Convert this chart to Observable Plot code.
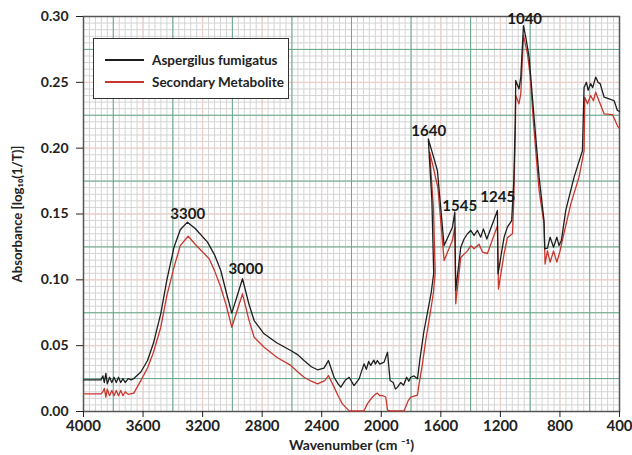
<!DOCTYPE html>
<html>
<head>
<meta charset="utf-8">
<script src="https://cdn.jsdelivr.net/npm/d3@7"></script>
<script src="https://cdn.jsdelivr.net/npm/@observablehq/plot@0.6"></script>
<style>
  html, body { margin: 0; padding: 0; background: #fff; }
  #wrap { position: relative; width: 632px; height: 455px; font-family: Lato, sans-serif; }
  #legend { position: absolute; left: 93px; top: 38px; width: 194px; height: 59px; border: 1.5px solid #333; background: #fff; box-sizing: content-box; }
  .item { position: absolute; left: 0; height: 20px; display: flex; align-items: center; font-weight: bold; font-size: 13.5px; color: #222; white-space: nowrap; }
  .sw { display: inline-block; width: 39px; height: 0; border-top: 2px solid; margin-left: 11px; margin-right: 8px; }
</style>
</head>
<body>
<div id="wrap">
  <div id="chart"></div>
  <div id="legend"></div>
</div>
<script>
// ---- data ----
const seriesNames = ["Aspergilus fumigatus", "Secondary Metabolite"];
const seriesColors = ["#1e1e1e", "#c8372d"];

const wnBlack = [4000,3900,3883,3870,3860,3850,3840,3825,3810,3795,3780,3765,3750,3735,3720,3700,3680,3662,3615,3570,3530,3481,3440,3392,3350,3302,3250,3167,3120,3078,3040,3004,2932,2890,2854,2787,2700,2608,2560,2519,2470,2428,2385,2355,2317,2290,2272,2240,2216,2183,2149,2116,2100,2085,2071,2050,2040,2026,2010,1981,1958,1941,1920,1905,1891,1870,1850,1830,1815,1802,1780,1757,1740,1715,1690,1665,1648,1660,1684,1656,1623,1578,1522,1506,1500,1466,1444,1421,1399,1377,1354,1332,1314,1291,1220,1216,1175,1153,1124,1110,1100,1097,1075,1063,1045,1029,1007,975,940,907,902,884,866,843,821,806,790,761,705,649,638,622,611,594,580,560,544,530,503,470,436,414,400];
const absBlack = [0.024,0.024,0.024,0.027,0.022,0.029,0.021,0.026,0.022,0.026,0.022,0.026,0.022,0.025,0.022,0.025,0.024,0.025,0.030,0.0387,0.052,0.0744,0.100,0.1248,0.138,0.1438,0.139,0.1286,0.119,0.1071,0.090,0.0747,0.1008,0.082,0.0691,0.059,0.052,0.0463,0.043,0.0387,0.034,0.0317,0.033,0.0387,0.026,0.021,0.0185,0.024,0.026,0.0197,0.0248,0.0362,0.032,0.038,0.035,0.039,0.036,0.0387,0.036,0.0375,0.045,0.0235,0.022,0.017,0.0185,0.022,0.020,0.026,0.023,0.026,0.027,0.0248,0.040,0.060,0.075,0.090,0.105,0.160,0.207,0.196,0.183,0.126,0.140,0.1514,0.092,0.1248,0.131,0.135,0.1375,0.1337,0.1375,0.1324,0.1387,0.131,0.1527,0.1046,0.1324,0.140,0.145,0.175,0.220,0.2514,0.245,0.254,0.293,0.284,0.269,0.225,0.178,0.145,0.1236,0.124,0.1324,0.1248,0.1324,0.126,0.130,0.1527,0.178,0.198,0.246,0.250,0.244,0.249,0.246,0.254,0.250,0.249,0.2387,0.2375,0.236,0.2286,0.228];

const wnRed = [4000,3883,3870,3860,3850,3840,3825,3810,3795,3780,3765,3750,3735,3720,3700,3662,3615,3570,3530,3481,3440,3392,3350,3297,3250,3156,3120,3078,3040,3004,2932,2890,2854,2787,2700,2608,2560,2519,2470,2428,2380,2355,2317,2290,2261,2216,2116,2093,2059,2040,2026,2010,1992,1970,1958,1940,1847,1820,1802,1757,1746,1725,1700,1675,1650,1638,1650,1675,1656,1620,1578,1522,1506,1500,1466,1421,1399,1377,1343,1320,1287,1220,1213,1175,1153,1119,1110,1100,1097,1075,1063,1045,1018,1000,975,940,907,900,884,866,843,821,799,784,727,672,638,633,615,594,575,560,538,503,447,414,400];
const absRed = [0.0134,0.0134,0.015,0.0175,0.011,0.017,0.012,0.016,0.012,0.016,0.012,0.016,0.012,0.015,0.013,0.014,0.0235,0.033,0.045,0.064,0.088,0.1096,0.126,0.1331,0.127,0.116,0.107,0.0944,0.080,0.064,0.0894,0.070,0.0564,0.0488,0.041,0.035,0.030,0.026,0.023,0.021,0.0235,0.0273,0.0185,0.012,0.0058,0.0005,0.0005,0.006,0.011,0.013,0.014,0.012,0.012,0.011,0.001,0.0005,0.0005,0.008,0.011,0.0125,0.021,0.035,0.055,0.072,0.090,0.105,0.155,0.197,0.188,0.170,0.1147,0.130,0.140,0.0818,0.117,0.122,0.126,0.1236,0.127,0.121,0.120,0.141,0.093,0.120,0.132,0.135,0.160,0.210,0.240,0.2337,0.2414,0.2856,0.2716,0.255,0.215,0.168,0.1425,0.112,0.122,0.1134,0.122,0.1134,0.122,0.130,0.1577,0.178,0.198,0.2387,0.2337,0.240,0.236,0.2425,0.236,0.226,0.2255,0.217,0.215];

const peakLabels = ["3300","3000","1640","1545","1245","1040"];
const peakWn =     [3300, 2910, 1681, 1473, 1218, 1037];
const peakAbs =    [0.150, 0.108, 0.2127, 0.156, 0.1625, 0.2977];

const xTicks = [4000,3600,3200,2800,2400,2000,1600,1200,800,400];
const yTicks = [0,0.05,0.10,0.15,0.20,0.25,0.30];

// ---- build ----
const black = wnBlack.map((w,i) => ({w, a: absBlack[i]}));
const red = wnRed.map((w,i) => ({w, a: absRed[i]}));
const peaks = peakLabels.map((t,i) => ({t, w: peakWn[i], a: peakAbs[i]}));

const minorX = d3.range(400, 4001, 40);
const minorY = d3.range(0, 61).map(i => i * 0.005);
const greenX = d3.range(600, 3801, 400);
const greenY = d3.range(0, 6).map(i => 0.025 + i * 0.05);

const chart = Plot.plot({
  width: 632,
  height: 455,
  marginLeft: 83,
  marginRight: 13,
  marginTop: 16,
  marginBottom: 44,
  style: {fontFamily: "Lato, sans-serif", fontSize: "14px", fontWeight: "bold", color: "#222", background: "#fff"},
  x: {domain: [4000, 400]},
  y: {domain: [0, 0.30]},
  marks: [
    Plot.ruleX(minorX, {stroke: "#d4d4d4", strokeWidth: 1}),
    Plot.ruleY(minorY, {stroke: "#d4d4d4", strokeWidth: 1}),
    Plot.ruleX(xTicks, {stroke: "#f2cdc6", strokeWidth: 1}),
    Plot.ruleY(yTicks, {stroke: "#f2cdc6", strokeWidth: 1}),
    Plot.ruleX(greenX, {stroke: "#66a888", strokeWidth: 1}),
    Plot.ruleY(greenY, {stroke: "#66a888", strokeWidth: 1}),
    Plot.frame({stroke: "#555", strokeWidth: 1.5}),
    Plot.line(red, {x: "w", y: "a", stroke: seriesColors[1], strokeWidth: 1.3, curve: "linear"}),
    Plot.line(black, {x: "w", y: "a", stroke: seriesColors[0], strokeWidth: 1.3, curve: "linear"}),
    Plot.text(peaks, {x: "w", y: "a", text: "t", fontSize: 15, fontWeight: "bold", fill: "#1a1a1a", textAnchor: "middle", lineAnchor: "middle"}),
    Plot.axisX({ticks: xTicks, tickFormat: d => String(d), tickSize: 6, tickPadding: 3, fontSize: 15,
      label: "Wavenumber (cm \u207B\u00B9)", labelAnchor: "center", labelArrow: "none", labelOffset: 38}),
    Plot.axisY({ticks: yTicks, tickFormat: d3.format(".2f"), tickSize: 7, tickPadding: 8, fontSize: 14,
      label: "Absorbance [log\u2081\u2080(1/T)]", labelAnchor: "center", labelArrow: "none", labelOffset: 71})
  ]
});
document.getElementById("chart").appendChild(chart);

// axis-title sizes as in the reference
const yl = chart.querySelector('[aria-label="y-axis label"]');
if (yl) yl.setAttribute("font-size", "13.2");
const xl = chart.querySelector('[aria-label="x-axis label"]');
if (xl) xl.setAttribute("font-size", "14");

// legend overlay
const lg = document.getElementById("legend");
seriesNames.forEach((n, i) => {
  const it = document.createElement("div");
  it.className = "item";
  it.style.top = (11 + i * 21.5) + "px";
  const sw = document.createElement("span");
  sw.className = "sw";
  sw.style.borderColor = seriesColors[i];
  it.appendChild(sw);
  it.appendChild(document.createTextNode(n));
  lg.appendChild(it);
});
</script>
</body>
</html>
